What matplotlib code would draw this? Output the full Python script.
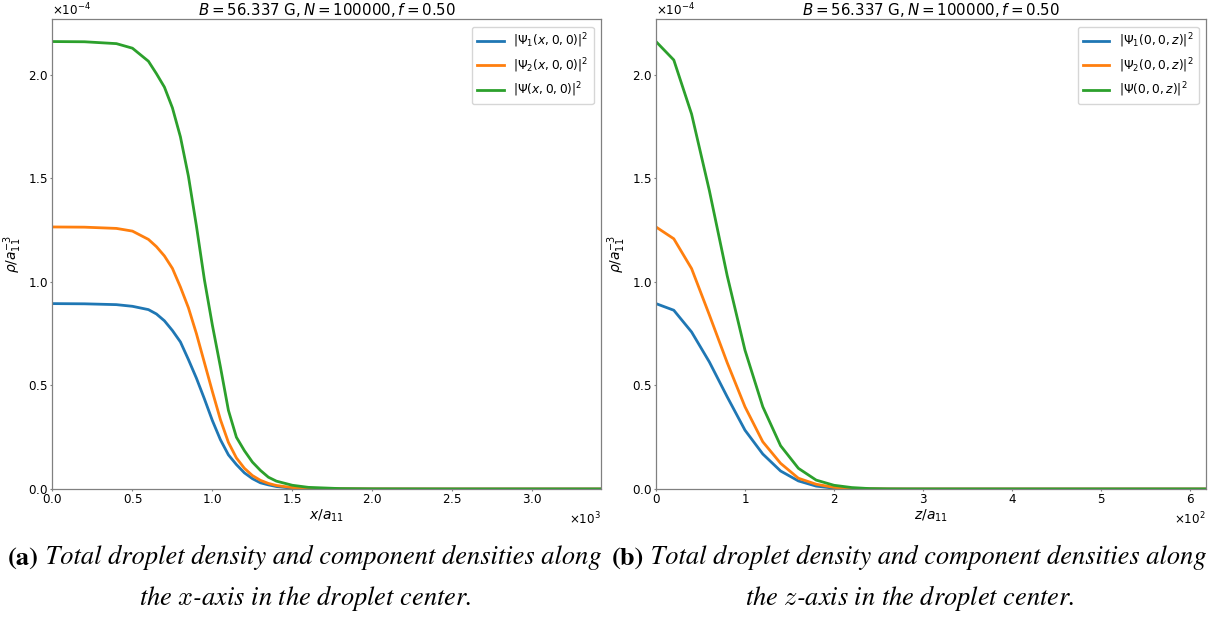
import numpy as np
import matplotlib
matplotlib.use("Agg")
import matplotlib.pyplot as plt

# x-axis profile (x in units of a11, densities in units of 1e-4 a11^-3)
x_left = [0, 200, 400, 500, 600, 650, 700, 750, 800, 850, 900, 950, 1000,
          1050, 1100, 1150, 1200, 1250, 1300, 1350, 1400, 1500, 1600, 1800,
          2000, 2500, 3000, 3450]
psi1_x = [0.895, 0.894, 0.890, 0.882, 0.866, 0.845, 0.812, 0.765, 0.71,
          0.625, 0.535, 0.435, 0.33, 0.238, 0.165, 0.118, 0.078, 0.05, 0.03,
          0.02, 0.012, 0.004, 0.0015, 0.0003, 0.0001, 0, 0, 0]
psi2_x = [1.265, 1.264, 1.258, 1.245, 1.205, 1.17, 1.125, 1.065, 0.975,
          0.875, 0.75, 0.61, 0.47, 0.335, 0.225, 0.15, 0.10, 0.065, 0.042,
          0.027, 0.017, 0.007, 0.003, 0.0007, 0.0002, 0, 0, 0]
psi_x = [2.160, 2.159, 2.150, 2.128, 2.065, 2.005, 1.94, 1.84, 1.70, 1.51,
         1.27, 1.01, 0.79, 0.59, 0.38, 0.25, 0.185, 0.13, 0.09, 0.057, 0.038,
         0.018, 0.008, 0.002, 0.0005, 0, 0, 0]

# z-axis profile
z_right = [0, 20, 40, 60, 80, 100, 120, 140, 160, 180, 200, 220, 240, 260,
           280, 300, 340, 400, 500, 620]
psi1_z = [0.895, 0.863, 0.758, 0.613, 0.445, 0.284, 0.169, 0.087, 0.039,
          0.014, 0.004, 0.001, 0.0003, 0, 0, 0, 0, 0, 0, 0]
psi2_z = [1.265, 1.208, 1.064, 0.84, 0.61, 0.397, 0.228, 0.124, 0.052,
          0.023, 0.008, 0.002, 0.0006, 0.0001, 0, 0, 0, 0, 0, 0]
psi_z = [2.16, 2.071, 1.81, 1.44, 1.03, 0.67, 0.397, 0.209, 0.10, 0.043,
         0.018, 0.007, 0.002, 0.0005, 0.0001, 0, 0, 0, 0, 0]

title = r"$B = 56.337$ G$, N = 100000, f = 0.50$"
grey = "#808080"

fig = plt.figure(figsize=(12.2, 6.19), dpi=100)
ax1 = fig.add_axes([0.0430, 0.210, 0.4497, 0.759])
ax2 = fig.add_axes([0.5377, 0.210, 0.4508, 0.759])


def style_axes(ax):
    for s in ax.spines.values():
        s.set_color(grey)
        s.set_linewidth(0.9)
    ax.tick_params(colors="black", labelsize=8.6, length=1.5, pad=1.5)
    ax.tick_params(axis="both", color=grey)
    ax.ticklabel_format(style="sci", scilimits=(0, 0), useMathText=True)
    ax.xaxis.get_offset_text().set_fontsize(8.6)
    ax.yaxis.get_offset_text().set_fontsize(8.6)
    ax.set_title(title, fontsize=10.8, pad=2)
    ax.set_ylabel(r"$\rho/a_{11}^{-3}$", fontsize=10, labelpad=3)
    ax.legend(loc="upper right", fontsize=8.8, handlelength=2.2,
              borderaxespad=0.6)


e = 1e-4
ax1.plot(x_left, np.array(psi1_x) * e, lw=2, label=r"$|\Psi_1(x,0,0)|^2$")
ax1.plot(x_left, np.array(psi2_x) * e, lw=2, label=r"$|\Psi_2(x,0,0)|^2$")
ax1.plot(x_left, np.array(psi_x) * e, lw=2, label=r"$|\Psi(x,0,0)|^2$")
ax1.set_xlim(0, 3430)
ax1.set_ylim(bottom=0)
ax1.set_xlabel(r"$x/a_{11}$", fontsize=10, labelpad=1)
style_axes(ax1)

ax2.plot(z_right, np.array(psi1_z) * e, lw=2, label=r"$|\Psi_1(0,0,z)|^2$")
ax2.plot(z_right, np.array(psi2_z) * e, lw=2, label=r"$|\Psi_2(0,0,z)|^2$")
ax2.plot(z_right, np.array(psi_z) * e, lw=2, label=r"$|\Psi(0,0,z)|^2$")
ax2.set_xlim(0, 618)
ax2.set_ylim(bottom=0)
ax2.set_xlabel(r"$z/a_{11}$", fontsize=10, labelpad=1)
style_axes(ax2)

# Captions
serif = ["STIXGeneral", "DejaVu Serif"]
fs = 19
for x0, tag, xc, var in [(0.0066, "(a)", 0.25, "x"), (0.5016, "(b)", 0.746, "z")]:
    t = fig.text(x0, 0.087, tag, family=serif, weight="bold", fontsize=fs)
    fig.add_artist(plt.Annotation(
        " Total droplet density and component densities along",
        xy=(1, 0), xycoords=t, va="bottom", ha="left",
        family=serif, style="italic", fontsize=fs, annotation_clip=False))
    fig.text(xc, 0.022, "the $" + var + "$-axis in the droplet center.",
             ha="center", family=serif, style="italic", fontsize=fs,
             math_fontfamily="cm")

fig.savefig("out.png", dpi=100)
